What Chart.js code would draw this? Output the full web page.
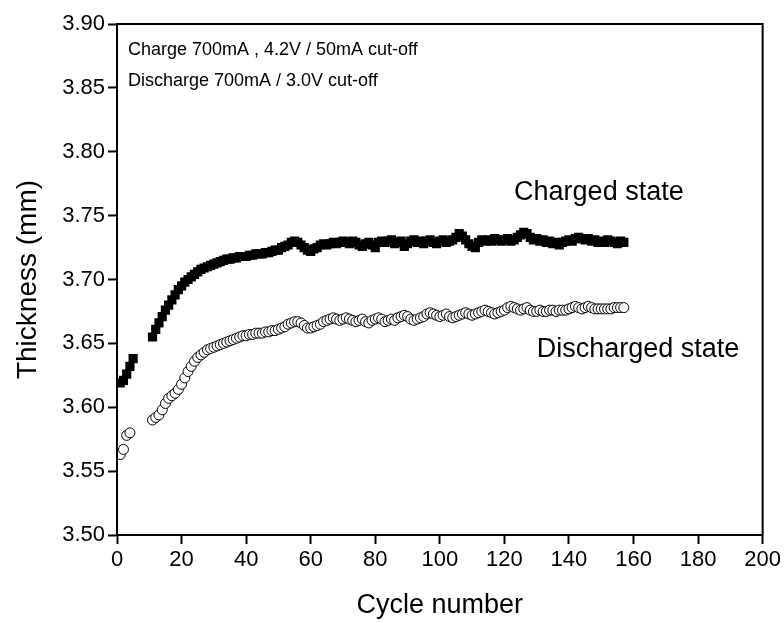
<!DOCTYPE html>
<html>
<head>
<meta charset="utf-8">
<script src="https://cdn.jsdelivr.net/npm/chart.js@4/dist/chart.umd.min.js"></script>
<style>
  html, body { margin: 0; padding: 0; background: #fff; }
</style>
</head>
<body>
<canvas id="thicknessChart" width="784" height="623"></canvas>
<script>
const FONT = "'Liberation Sans', Arial, sans-serif";

const xTicks = [0, 20, 40, 60, 80, 100, 120, 140, 160, 180, 200];
const yTicks = [3.50, 3.55, 3.60, 3.65, 3.70, 3.75, 3.80, 3.85, 3.90];

// charged state, cycles 1-5 then 11-157
const chargedCycles = [1, 2, 3, 4, 5];
for (let c = 11; c <= 157; c++) chargedCycles.push(c);
const chargedValues = [
  3.619, 3.621, 3.626, 3.632, 3.638,
  3.655, 3.661, 3.666, 3.671, 3.676, 3.680, 3.684, 3.688, 3.692, 3.695,
  3.698, 3.700, 3.702, 3.704, 3.706, 3.708, 3.709, 3.710, 3.711, 3.712,
  3.713, 3.714, 3.715, 3.716, 3.716, 3.717, 3.717, 3.718, 3.718, 3.718,
  3.719, 3.719, 3.720, 3.720, 3.720, 3.721, 3.721, 3.722, 3.723, 3.723,
  3.725, 3.726, 3.727, 3.729, 3.730, 3.729, 3.727, 3.725, 3.723, 3.722,
  3.724, 3.725, 3.727, 3.728, 3.727, 3.728, 3.729, 3.728, 3.729, 3.730,
  3.729, 3.728, 3.730, 3.729, 3.727, 3.726, 3.728, 3.729, 3.727, 3.725,
  3.729, 3.730, 3.729, 3.730, 3.731, 3.728, 3.729, 3.730, 3.726, 3.728,
  3.730, 3.731, 3.729, 3.730, 3.728, 3.730, 3.731, 3.729, 3.728, 3.730,
  3.731, 3.729, 3.730, 3.731, 3.733, 3.736, 3.734, 3.731, 3.728, 3.726,
  3.725, 3.729, 3.731, 3.730, 3.731, 3.730, 3.732, 3.731, 3.730, 3.731,
  3.732, 3.730, 3.731, 3.733, 3.735, 3.737, 3.736, 3.733, 3.731, 3.732,
  3.730, 3.731, 3.729, 3.730, 3.728, 3.729, 3.727, 3.729, 3.730, 3.731,
  3.730, 3.732, 3.733, 3.732, 3.731, 3.732, 3.730, 3.731, 3.729, 3.730,
  3.729, 3.731, 3.730, 3.729, 3.728, 3.730, 3.729
];

// discharged state, cycles 1-4 then 11-157
const dischargedCycles = [1, 2, 3, 4];
for (let c = 11; c <= 157; c++) dischargedCycles.push(c);
const dischargedValues = [
  3.563, 3.567, 3.578, 3.580,
  3.590, 3.592, 3.594, 3.598, 3.603, 3.607, 3.609, 3.611, 3.614, 3.618,
  3.623, 3.628, 3.632, 3.636, 3.639, 3.641, 3.643, 3.645, 3.646, 3.647,
  3.648, 3.649, 3.650, 3.651, 3.652, 3.653, 3.654, 3.655, 3.656, 3.656,
  3.657, 3.657, 3.658, 3.658, 3.658, 3.659, 3.659, 3.660, 3.660, 3.661,
  3.662, 3.663, 3.665, 3.666, 3.667, 3.667, 3.666, 3.664, 3.662, 3.662,
  3.663, 3.664, 3.665, 3.667, 3.668, 3.669, 3.670, 3.669, 3.668, 3.669,
  3.670, 3.669, 3.668, 3.667, 3.668, 3.669, 3.667, 3.666, 3.668, 3.669,
  3.670, 3.669, 3.667, 3.668, 3.669, 3.668, 3.670, 3.671, 3.672, 3.671,
  3.669, 3.668, 3.669, 3.670, 3.671, 3.673, 3.674, 3.673, 3.672, 3.671,
  3.672, 3.673, 3.671, 3.670, 3.671, 3.672, 3.673, 3.674, 3.673, 3.672,
  3.673, 3.674, 3.675, 3.676, 3.675, 3.674, 3.673, 3.674, 3.675, 3.676,
  3.678, 3.679, 3.678, 3.677, 3.676, 3.677, 3.678, 3.676, 3.675, 3.675,
  3.676, 3.675, 3.675, 3.676, 3.676, 3.675, 3.676, 3.676, 3.676, 3.677,
  3.678, 3.679, 3.678, 3.677, 3.678, 3.679, 3.678, 3.677, 3.677, 3.677,
  3.677, 3.677, 3.677, 3.678, 3.678, 3.678, 3.678
];

// text labels placed in data coordinates
const notes = [
  { text: "Charge 700mA , 4.2V / 50mA cut-off", x: 3.4, y: 3.880, size: 18 },
  { text: "Discharge 700mA / 3.0V cut-off", x: 3.4, y: 3.855, size: 18 },
  { text: "Charged state", x: 123, y: 3.768, size: 27 },
  { text: "Discharged state", x: 130, y: 3.645, size: 27 }
];

const toPoints = (xs, ys) => xs.map((x, i) => ({ x: x, y: ys[i] }));

const framePlugin = {
  id: "frame",
  afterDraw(chart) {
    const { ctx, chartArea: a, scales } = chart;
    ctx.save();
    ctx.strokeStyle = "#000";
    ctx.lineWidth = 2;
    ctx.strokeRect(a.left, a.top, a.right - a.left, a.bottom - a.top);
    ctx.fillStyle = "#000";
    ctx.textBaseline = "middle";
    ctx.textAlign = "left";
    notes.forEach(n => {
      ctx.font = n.size + "px " + FONT;
      ctx.fillText(n.text, scales.x.getPixelForValue(n.x), scales.y.getPixelForValue(n.y));
    });
    ctx.restore();
  }
};

const ctx = document.getElementById("thicknessChart").getContext("2d");

const thicknessChart = new Chart(ctx, {
  type: "scatter",
  data: {
    datasets: [
      {
        label: "Charged state",
        data: toPoints(chargedCycles, chargedValues),
        pointStyle: "rect",
        pointRadius: 6.5,
        backgroundColor: "#000",
        borderColor: "#000",
        borderWidth: 0,
      },
      {
        label: "Discharged state",
        data: toPoints(dischargedCycles, dischargedValues),
        pointStyle: "circle",
        pointRadius: 5,
        backgroundColor: "#fff",
        borderColor: "#000",
        borderWidth: 1,
      },
    ],
  },
  options: {
    responsive: false,
    animation: false,
    devicePixelRatio: 1,
    layout: { padding: { top: 24, right: 21, bottom: 0, left: 0 } },
    plugins: {
      legend: { display: false },
      tooltip: { enabled: false },
    },
    scales: {
      x: {
        type: "linear",
        min: 0,
        max: 200,
        afterFit(scale) { scale.height = 88; },
        afterBuildTicks(scale) { scale.ticks = xTicks.map(v => ({ value: v })); },
        grid: {
          drawOnChartArea: false,
          drawTicks: true,
          tickLength: 9,
          tickWidth: 2,
          tickColor: "#000",
        },
        border: { display: true, color: "#000", width: 2 },
        ticks: {
          color: "#000",
          padding: 3,
          maxRotation: 0,
          autoSkip: false,
          font: { family: FONT, size: 22 },
        },
        title: {
          display: true,
          text: "Cycle number",
          color: "#000",
          padding: { top: 0, bottom: 1 },
          font: { family: FONT, size: 27 },
        },
      },
      y: {
        type: "linear",
        min: 3.5,
        max: 3.9,
        afterFit(scale) { scale.width = 117; },
        afterBuildTicks(scale) { scale.ticks = yTicks.map(v => ({ value: v })); },
        grid: {
          drawOnChartArea: false,
          drawTicks: true,
          tickLength: 9,
          tickWidth: 2,
          tickColor: "#000",
        },
        border: { display: true, color: "#000", width: 2 },
        ticks: {
          color: "#000",
          padding: 3,
          autoSkip: false,
          font: { family: FONT, size: 22 },
          callback: v => v.toFixed(2),
        },
        title: {
          display: true,
          text: "Thickness (mm)",
          color: "#000",
          padding: { top: 11, bottom: 0 },
          font: { family: FONT, size: 28 },
        },
      },
    },
  },
  plugins: [framePlugin],
});
</script>
</body>
</html>
